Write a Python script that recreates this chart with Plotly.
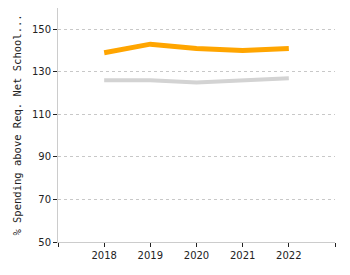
import plotly.graph_objects as go

years = [2018, 2019, 2020, 2021, 2022]
series_orange = [139, 143, 141, 140, 141]
series_gray = [126, 126, 125, 126, 127]
tick_years = [2017, 2018, 2019, 2020, 2021, 2022, 2023]
tick_labels = ["", "2018", "2019", "2020", "2021", "2022", ""]
y_ticks = [50, 70, 90, 110, 130, 150]

fig = go.Figure()
fig.add_trace(go.Scatter(x=years, y=series_gray, mode="lines",
                         line=dict(color="#d3d3d3", width=4), showlegend=False))
fig.add_trace(go.Scatter(x=years, y=series_orange, mode="lines",
                         line=dict(color="#FFA500", width=5), showlegend=False))

font = "Verdana, DejaVu Sans, sans-serif"
fig.update_layout(
    width=350, height=275,
    margin=dict(l=58, r=15, t=8, b=33),
    paper_bgcolor="white", plot_bgcolor="white",
    font=dict(family=font, size=10, color="#222"),
    xaxis=dict(range=[2017, 2023], tickvals=tick_years, ticktext=tick_labels,
               showgrid=False, showline=True, linecolor="#cccccc", linewidth=1,
               ticks="outside", ticklen=4, tickcolor="#222", zeroline=False,
               tickfont=dict(size=10)),
    yaxis=dict(range=[50, 160], tickvals=y_ticks, showgrid=True,
               gridcolor="#c8c8c8", griddash="dot", gridwidth=1,
               showline=True, linecolor="#cccccc", linewidth=1,
               ticks="outside", ticklen=4, tickcolor="#222", zeroline=False,
               tickfont=dict(size=10),
               title=dict(text="% Spending above Req. Net School...",
                          font=dict(size=10.5, family="DejaVu Sans Mono"), standoff=8)),
)
fig.write_html("out.html")
